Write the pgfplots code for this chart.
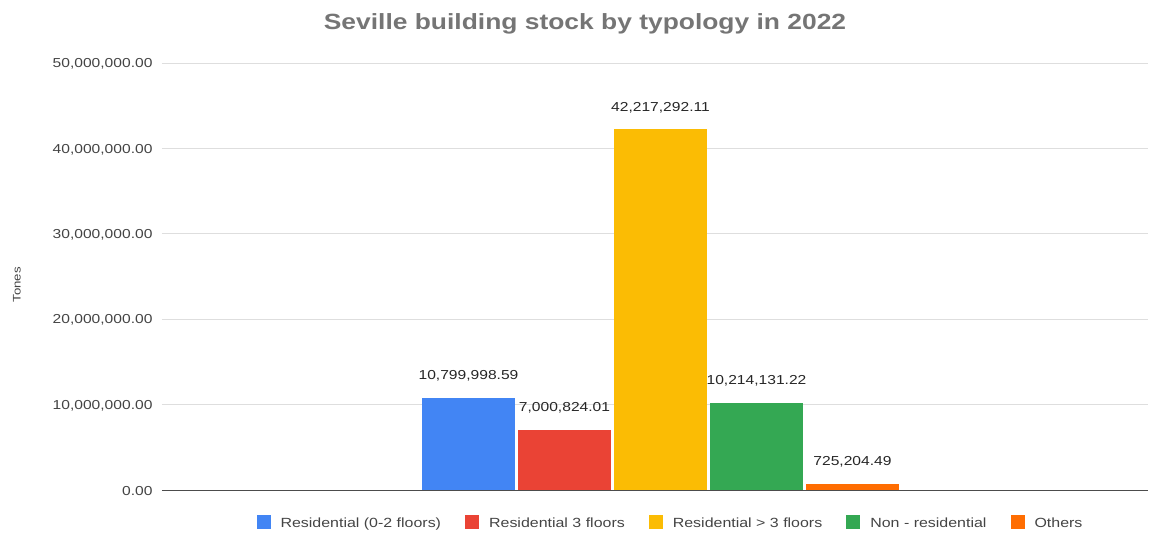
\documentclass[border=0pt]{standalone}
\usepackage{fontspec}
\setmainfont[FakeStretch=1.2]{Liberation Sans}
\usepackage{pgfplots}
\pgfplotsset{compat=1.18}
\definecolor{cblue}{HTML}{4285F4}
\definecolor{cred}{HTML}{EA4335}
\definecolor{cyellow}{HTML}{FBBC04}
\definecolor{cgreen}{HTML}{34A853}
\definecolor{corange}{HTML}{FF6D01}
\definecolor{ctext}{HTML}{444444}
\definecolor{ctitle}{HTML}{757575}
\begin{document}
\begin{tikzpicture}
\useasboundingbox (-162pt,-48pt) rectangle (997pt,490pt);
\begin{axis}[
  at={(0pt,0pt)}, anchor=south west,
  scale only axis, width=986pt, height=427pt,
  xmin=-498.5, xmax=487.5, ymin=0, ymax=50000000,
  ybar=3pt, bar width=93pt,
  axis x line*=bottom, axis y line*=left,
  x axis line style={draw=black!70, line width=1pt, -},
  y axis line style={draw=none},
  tick style={draw=none},
  xtick=\empty,
  scaled y ticks=false,
  ytick={0,10000000,20000000,30000000,40000000,50000000},
  yticklabels={{0.00},{10,000,000.00},{20,000,000.00},{30,000,000.00},{40,000,000.00},{50,000,000.00}},
  yticklabel style={font=\fontsize{13}{15}\selectfont, text=ctext, xshift=-6pt, yshift=-1pt},
  ymajorgrids, major grid style={color=black!13, line width=0.8pt},
  point meta=explicit symbolic,
  nodes near coords,
  nodes near coords style={font=\fontsize{13}{15}\selectfont, text=black!85, anchor=center, yshift=22pt},
  legend columns=5,
  legend style={at={(axis description cs:0.5147,-0.075)}, anchor=center, draw=none, fill=none,
    font=\fontsize{13.3}{15}\selectfont, text=ctext,
    nodes={inner sep=0pt},
    /tikz/every odd column/.append style={column sep=10pt},
    /tikz/every even column/.append style={column sep=24pt}},
  legend image code/.code={\fill[#1,draw=none] (0pt,-5pt) rectangle (14pt,9pt);},
  clip=false,
]
\addplot[fill=cblue, draw=none] coordinates {(0,10799998.59) [10,799,998.59]};
\addplot[fill=cred, draw=none] coordinates {(0,7000824.01) [7,000,824.01]};
\addplot[fill=cyellow, draw=none] coordinates {(0,42217292.11) [42,217,292.11]};
\addplot[fill=cgreen, draw=none] coordinates {(0,10214131.22) [10,214,131.22]};
\addplot[fill=corange, draw=none] coordinates {(0,725204.49) [725,204.49]};
\legend{Residential (0-2 floors), Residential 3 floors, Residential > 3 floors, Non - residential, Others}
\end{axis}
\node[font=\bfseries\fontsize{22}{26}\selectfont, text=ctitle] at (423pt,466pt) {Seville building stock by typology in 2022};
\node[font=\fontsize{11}{13}\selectfont, text=ctext, rotate=90] at (-145pt,205pt) {Tones};
\end{tikzpicture}
\end{document}
